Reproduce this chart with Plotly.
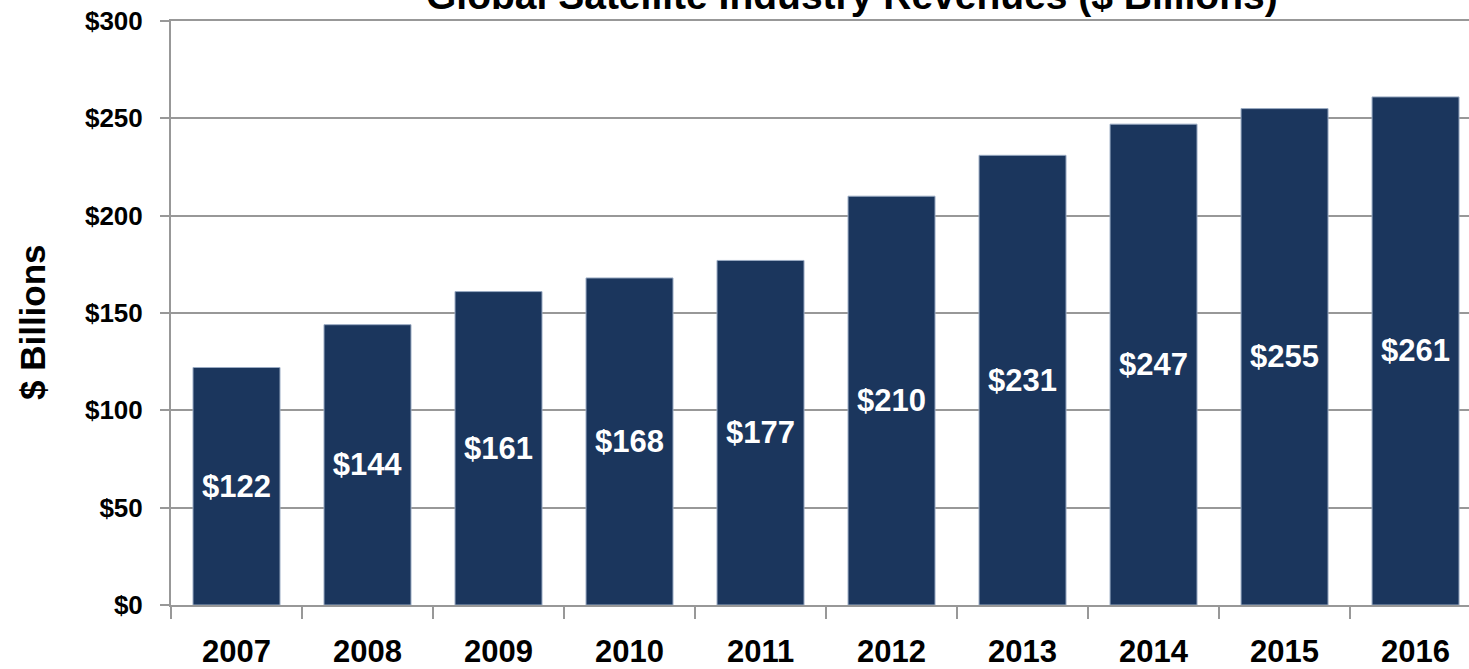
import plotly.graph_objects as go

# ── Data ─────────────────────────────────────────────
years = ["2007", "2008", "2009", "2010", "2011", "2012", "2013", "2014", "2015", "2016"]
revenues = [122, 144, 161, 168, 177, 210, 231, 247, 255, 261]
y_ticks = [0, 50, 100, 150, 200, 250, 300]
y_tick_labels = ["$0", "$50", "$100", "$150", "$200", "$250", "$300"]

NARROW = "Liberation Sans Narrow, Arial Narrow, Liberation Sans, Arial, sans-serif"
WIDE = "Liberation Sans, Arial, sans-serif"
GRID = "#989898"

fig = go.Figure()
fig.add_trace(go.Bar(
    x=years,
    y=revenues,
    width=0.664,
    marker_color="#1b365d",
    marker_line_color="#9aabc3",
    marker_line_width=1,
    text=["$" + str(v) for v in revenues],
    textposition="inside",
    insidetextanchor="middle",
    textangle=0,
    textfont=dict(family=NARROW, size=31, color="white", weight="bold"),
    cliponaxis=False,
))

fig.update_layout(
    width=1469,
    height=669,
    margin=dict(l=171, r=0, t=21, b=64),
    plot_bgcolor="white",
    paper_bgcolor="white",
    showlegend=False,
    bargap=0.336,
)

fig.update_xaxes(
    type="category",
    range=[-0.5, 9.408],
    automargin=False,
    showgrid=False,
    showline=True,
    mirror=True,  # top line doubles as the $300 gridline
    linecolor=GRID,
    linewidth=2,
    ticks="outside",
    tickson="boundaries",
    ticklen=12,
    tickwidth=2,
    tickcolor=GRID,
    tickfont=dict(family=NARROW, size=31, color="black", weight="bold"),
    ticklabelstandoff=18,
)

fig.update_yaxes(
    range=[0, 300],
    automargin=False,
    tickvals=y_ticks,
    ticktext=y_tick_labels,
    showgrid=True,
    gridcolor=GRID,
    gridwidth=2,
    showline=True,
    linecolor=GRID,
    linewidth=2,
    ticks="outside",
    ticklen=9,
    tickwidth=2,
    tickcolor=GRID,
    tickfont=dict(family=NARROW, size=26, color="black", weight="bold"),
    ticklabelstandoff=12,
    zeroline=False,
)

fig.add_annotation(
    text="$ Billions",
    xref="paper", yref="paper",
    x=-0.1063, y=0.4846,
    xanchor="center", yanchor="middle",
    textangle=-90,
    showarrow=False,
    font=dict(family=WIDE, size=35, color="black", weight="bold"),
)

fig.add_annotation(
    text="Global Satellite Industry Revenues ($ Billions)",
    xref="paper", yref="paper",
    x=0.5247, y=1.0437,
    xanchor="center", yanchor="middle",
    showarrow=False,
    font=dict(family=WIDE, size=39, color="black", weight="bold"),
)

# drop the default body margin so the figure sits at the page corner
fig.write_html(
    "out.html",
    config={"displayModeBar": False},
    post_script="document.body.style.margin='0';",
)
